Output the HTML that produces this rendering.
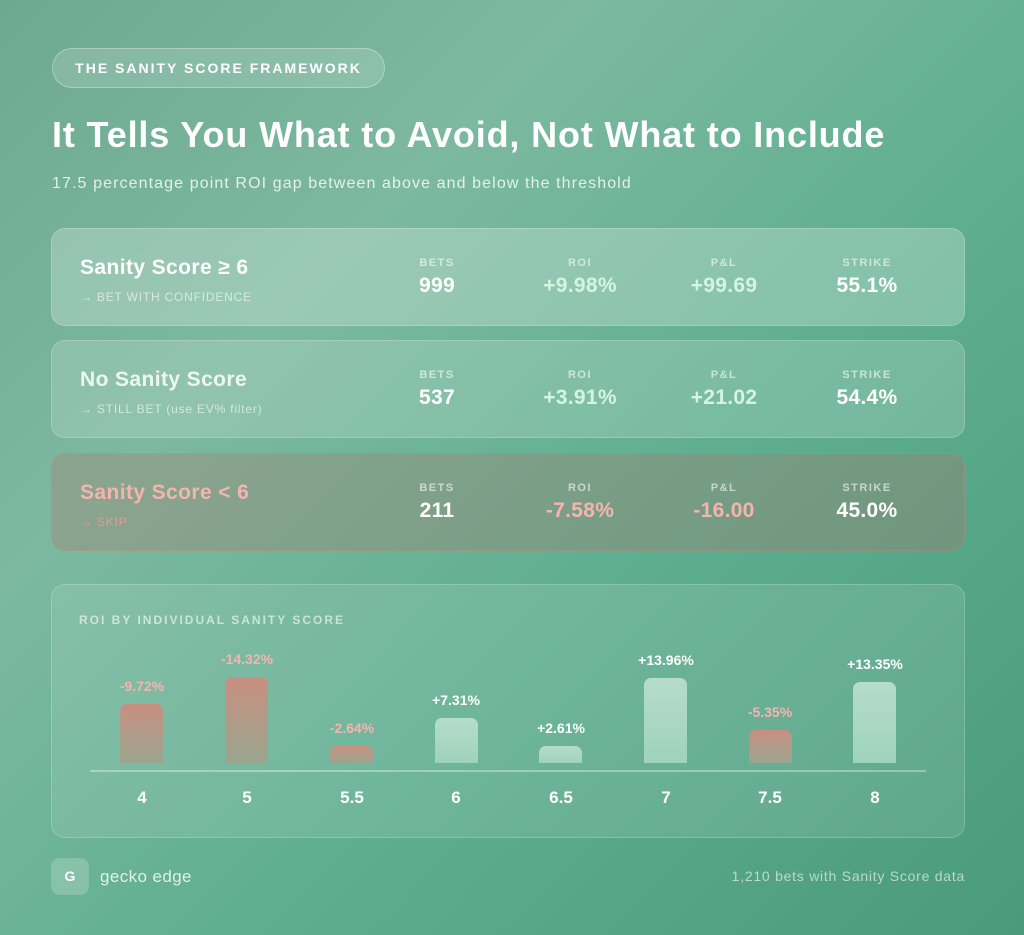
<!DOCTYPE html>
<html><head><meta charset="utf-8"><style>
*{margin:0;padding:0;box-sizing:border-box}
body{width:1024px;height:935px;overflow:hidden;font-family:"Liberation Sans",sans-serif;color:#fff;
background:linear-gradient(135deg,#6ea892 0%,#7cb9a0 30%,#5fae91 60%,#4a9a7c 100%);position:relative}
.abs{position:absolute}
.pill{left:52px;top:48px;width:333px;height:40px;border-radius:20px;background:rgba(255,255,255,0.15);border:1px solid rgba(255,255,255,0.3);font-size:14px;font-weight:bold;letter-spacing:2px;line-height:38px;text-align:center}
h1{position:absolute;left:52px;top:114px;font-size:36px;font-weight:bold;letter-spacing:0.85px;white-space:nowrap}
.sub{left:52px;top:175px;font-size:16px;letter-spacing:1.1px;color:rgba(255,255,255,0.8);white-space:nowrap}
.card{left:51px;width:914px;height:98px;border-radius:14px;background:rgba(255,255,255,0.16);border:1px solid rgba(255,255,255,0.2)}
.card .t{position:absolute;left:28px;top:27px;font-size:21px;font-weight:bold;letter-spacing:0.4px}
.card .s{position:absolute;left:28px;top:61px;font-size:12px;letter-spacing:0.8px;color:rgba(255,255,255,0.6)}
.st{position:absolute;top:28px;width:120px;text-align:center}
.st .l{font-size:11px;font-weight:bold;letter-spacing:1.5px;color:rgba(255,255,255,0.6)}
.st .v{font-size:21px;font-weight:bold;margin-top:5px;letter-spacing:0.3px}
.g{color:#d4f5e0}.r{color:#f6b4ae}
.chart{left:51px;top:584px;width:914px;height:254px;border-radius:14px;background:rgba(255,255,255,0.1);border:1px solid rgba(255,255,255,0.2)}
.bar{position:absolute;width:43px;border-radius:7px 7px 0 0}
.neg{background:linear-gradient(#c88f80,#9aa58f)}
.pos{background:linear-gradient(#b6dccb,#9ed3bb)}
.bl{position:absolute;width:120px;text-align:center;font-size:14px;font-weight:bold}
.xl{position:absolute;top:788px;width:80px;text-align:center;font-size:17px;font-weight:bold}
</style></head><body>
<div class="abs pill">THE SANITY SCORE FRAMEWORK</div>
<h1>It Tells You What to Avoid, Not What to Include</h1>
<div class="abs sub">17.5 percentage point ROI gap between above and below the threshold</div>

<div class="abs card" style="top:228px;background:rgba(255,255,255,0.24)">
<div class="t">Sanity Score ≥ 6</div><div class="s">→ BET WITH CONFIDENCE</div>
<div class="st" style="left:325px"><div class="l">BETS</div><div class="v">999</div></div>
<div class="st" style="left:468px"><div class="l">ROI</div><div class="v g">+9.98%</div></div>
<div class="st" style="left:612px"><div class="l">P&amp;L</div><div class="v g">+99.69</div></div>
<div class="st" style="left:755px"><div class="l">STRIKE</div><div class="v">55.1%</div></div>
</div>
<div class="abs card" style="top:340px">
<div class="t" style="color:rgba(255,255,255,0.85)">No Sanity Score</div><div class="s">→ STILL BET (use EV% filter)</div>
<div class="st" style="left:325px"><div class="l">BETS</div><div class="v">537</div></div>
<div class="st" style="left:468px"><div class="l">ROI</div><div class="v g">+3.91%</div></div>
<div class="st" style="left:612px"><div class="l">P&amp;L</div><div class="v g">+21.02</div></div>
<div class="st" style="left:755px"><div class="l">STRIKE</div><div class="v">54.4%</div></div>
</div>
<div class="abs card" style="top:453px;background:rgba(180,110,100,0.28);border-color:rgba(220,140,130,0.3)">
<div class="t r">Sanity Score &lt; 6</div><div class="s" style="color:#e79a94">→ SKIP</div>
<div class="st" style="left:325px"><div class="l">BETS</div><div class="v">211</div></div>
<div class="st" style="left:468px"><div class="l">ROI</div><div class="v r">-7.58%</div></div>
<div class="st" style="left:612px"><div class="l">P&amp;L</div><div class="v r">-16.00</div></div>
<div class="st" style="left:755px"><div class="l">STRIKE</div><div class="v">45.0%</div></div>
</div>

<div class="abs chart"></div>
<div class="abs" style="left:79px;top:613px;font-size:12px;font-weight:bold;letter-spacing:2px;color:rgba(255,255,255,0.6)">ROI BY INDIVIDUAL SANITY SCORE</div>
<div class="abs" style="left:90px;top:770px;width:836px;height:2px;background:rgba(255,255,255,0.35)"></div>

<div class="bar neg" style="left:120px;top:704px;height:59px"></div>
<div class="bar neg" style="left:225px;top:677px;height:86px"></div>
<div class="bar neg" style="left:330px;top:746px;height:17px"></div>
<div class="bar pos" style="left:435px;top:718px;height:45px"></div>
<div class="bar pos" style="left:539px;top:746px;height:17px"></div>
<div class="bar pos" style="left:644px;top:678px;height:85px"></div>
<div class="bar neg" style="left:749px;top:730px;height:33px"></div>
<div class="bar pos" style="left:853px;top:682px;height:81px"></div>

<div class="bl r" style="left:82px;top:678px">-9.72%</div>
<div class="bl r" style="left:187px;top:651px">-14.32%</div>
<div class="bl r" style="left:292px;top:720px">-2.64%</div>
<div class="bl" style="left:396px;top:692px">+7.31%</div>
<div class="bl" style="left:501px;top:720px">+2.61%</div>
<div class="bl" style="left:606px;top:652px">+13.96%</div>
<div class="bl r" style="left:710px;top:704px">-5.35%</div>
<div class="bl" style="left:815px;top:656px">+13.35%</div>

<div class="xl" style="left:102px">4</div>
<div class="xl" style="left:207px">5</div>
<div class="xl" style="left:312px">5.5</div>
<div class="xl" style="left:416px">6</div>
<div class="xl" style="left:521px">6.5</div>
<div class="xl" style="left:626px">7</div>
<div class="xl" style="left:730px">7.5</div>
<div class="xl" style="left:835px">8</div>

<div class="abs" style="left:51px;top:858px;width:38px;height:37px;border-radius:9px;background:rgba(255,255,255,0.2);text-align:center;line-height:37px;font-weight:bold;font-size:14px">G</div>
<div class="abs" style="left:100px;top:867px;font-size:17px;letter-spacing:0.4px;color:rgba(255,255,255,0.8)">gecko edge</div>
<div class="abs" style="right:59px;top:868px;font-size:14px;letter-spacing:0.75px;color:rgba(255,255,255,0.6)">1,210 bets with Sanity Score data</div>
</body></html>
